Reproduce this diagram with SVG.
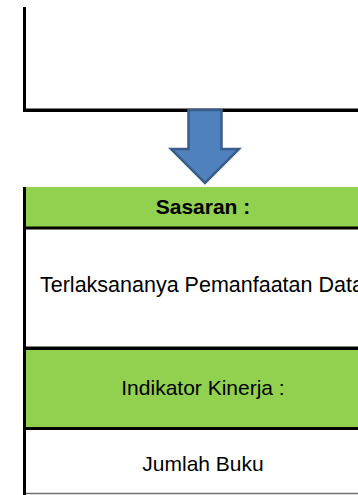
<svg xmlns="http://www.w3.org/2000/svg" width="358" height="495" viewBox="0 0 358 495">
<style>
.t{font-family:"Liberation Sans",Arial,sans-serif;font-size:21px;fill:#000}
.b{font-weight:bold}
.g{fill:#92D050}
.w{fill:#FFFFFF}
.bl{stroke:#000;stroke-width:3;fill:none}
.gl{stroke:#808080;stroke-width:1;fill:none}
</style>
<rect width="358" height="495" fill="#FFFFFF"/>
<g id="top-box">
<line class="bl" x1="24.5" y1="7" x2="24.5" y2="112"/>
<line class="gl" x1="26" y1="108.5" x2="358" y2="108.5"/>
<line class="bl" x1="23" y1="110.5" x2="358" y2="110.5"/>
</g>
<g id="connectors">
<path d="M188.5,110 L221.5,110 L221.5,149 L239,149 L205,183 L171,149 L188.5,149 Z" fill="#4F81BD" stroke="#385D8A" stroke-width="2.5" stroke-linejoin="miter"/>
</g>
<g id="sasaran-header">
<rect class="g" x="26" y="187" width="332" height="40"/>
<text class="t b" x="203" y="214" text-anchor="middle">Sasaran :</text>
</g>
<g id="sasaran-body">
<rect class="w" x="26" y="229" width="332" height="118"/>
<text class="t" x="40" y="292" style="font-size:21.5px">Terlaksananya Pemanfaatan Data</text>
</g>
<g id="indikator-header">
<rect class="g" x="26" y="349" width="332" height="78"/>
<text class="t" x="203" y="395" text-anchor="middle">Indikator Kinerja :</text>
</g>
<g id="indikator-body">
<rect class="w" x="26" y="430" width="332" height="63"/>
<text class="t" x="203" y="471" text-anchor="middle">Jumlah Buku</text>
</g>
<g id="borders">
<line class="bl" x1="24.5" y1="187" x2="24.5" y2="495"/>
<line class="bl" x1="23" y1="228" x2="358" y2="228"/>
<line class="gl" x1="26" y1="346.5" x2="358" y2="346.5"/>
<line class="bl" x1="23" y1="348.5" x2="358" y2="348.5"/>
<line class="bl" x1="23" y1="428.5" x2="358" y2="428.5"/>
<line stroke="#707070" stroke-width="1.5" x1="26" y1="493.5" x2="358" y2="493.5"/>
</g>
</svg>
